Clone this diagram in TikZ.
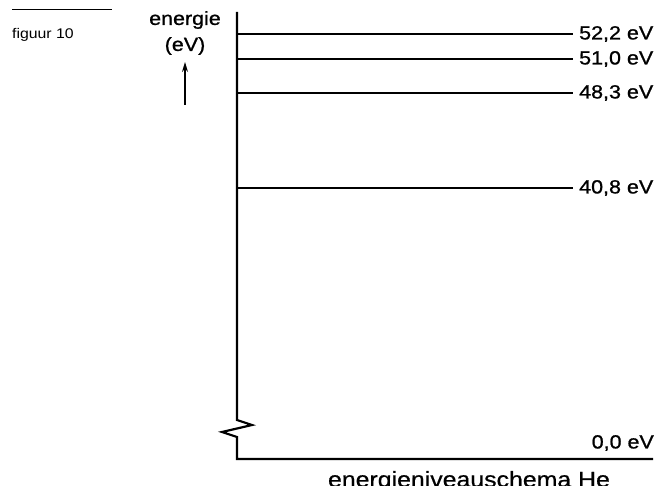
\documentclass[tikz,border=0pt]{standalone}
\usepackage{fontspec}
\setmainfont{Liberation Sans}[FakeStretch=1.13]
\usetikzlibrary{arrows.meta}
\begin{document}
\begin{tikzpicture}[x=1pt,y=-1pt,
  lvl/.style={line width=2.2pt},
  lab/.style={anchor=west,inner sep=0pt,font=\fontsize{19}{21}\selectfont\addfontfeature{FakeBold=1}},
  ttl/.style={inner sep=0pt,font=\fontsize{19}{21}\selectfont\addfontfeature{FakeBold=1}},
  capt/.style={inner sep=0pt,font=\fontsize{14}{16}\selectfont}]
\useasboundingbox (0,0) rectangle (666,486);
\clip (0,0) rectangle (666,486);
% top-left rule and figure caption
\draw[line width=1pt] (12,10) -- (112,10);
\node[capt,anchor=west] (fig) at (12,35) {figuur 10};
% axis title
\node[ttl] (en) at (185,20) {energie};
\node[ttl] (ev) at (185,46) {(eV)};
\coordinate (arB) at (185,105);
\coordinate (arT) at (185,62);
\draw[line width=1.3pt,-{Stealth[length=10pt,width=6pt]}] (arB) -- (arT);
% axis with break
\coordinate (top) at (237,12);
\coordinate (z1) at (237,420);
\coordinate (z2) at (252,425);
\coordinate (z3) at (222,432);
\coordinate (z4) at (237,437);
\coordinate (orig) at (237,459);
\coordinate (xend) at (653,459);
\draw[lvl,line join=miter] (top) -- (z1) -- (z2) -- (z3) -- (z4) -- (orig) -- (xend);
% levels
\node[lab] (l1) at (579,34) {52,2 eV};
\node[lab] (l2) at (579,59) {51,0 eV};
\node[lab] (l3) at (579,93) {48,3 eV};
\node[lab] (l4) at (579,188) {40,8 eV};
\node[lab,anchor=east] (l0) at (654,443) {0,0 eV};
\draw[lvl] (top |- l1) -- ([xshift=-6pt]l1.west);
\draw[lvl] (top |- l2) -- ([xshift=-6pt]l2.west);
\draw[lvl] (top |- l3) -- ([xshift=-6pt]l3.west);
\draw[lvl] (top |- l4) -- ([xshift=-6pt]l4.west);
% bottom caption
\node[inner sep=0pt,anchor=base,font=\fontsize{22}{24}\selectfont\addfontfeature{FakeBold=0.6}] (he) at (469,487) {energieniveauschema He};
\end{tikzpicture}
\end{document}
